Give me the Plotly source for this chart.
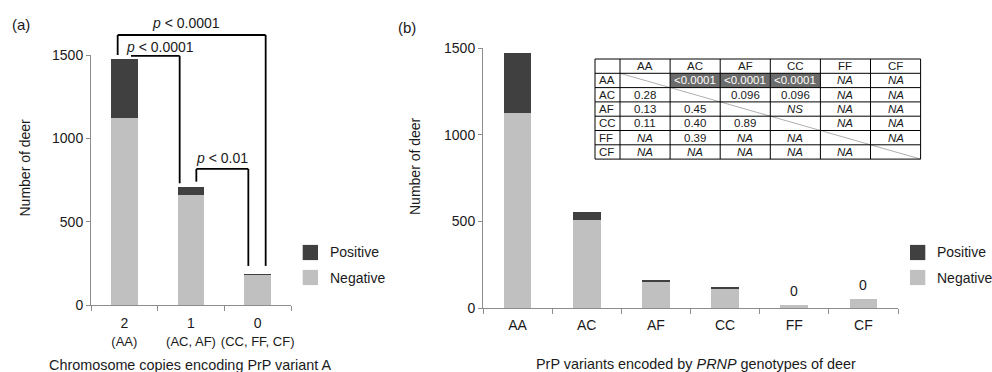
import plotly.graph_objects as go

# ---------------- data ----------------
copies = ["2", "1", "0"]
copies_sub = ["(AA)", "(AC, AF)", "(CC, FF, CF)"]
neg_a = [1125, 661, 184]
pos_a = [350, 50, 2]

genotypes = ["AA", "AC", "AF", "CC", "FF", "CF"]
neg_b = [1125, 510, 151, 113, 17, 54]
pos_b = [350, 43, 7, 2, 0, 0]

table_cols = ["AA", "AC", "AF", "CC", "FF", "CF"]
table_rows = [
    ["", "<0.0001", "<0.0001", "<0.0001", "NA", "NA"],
    ["0.28", "", "0.096", "0.096", "NA", "NA"],
    ["0.13", "0.45", "", "NS", "NA", "NA"],
    ["0.11", "0.40", "0.89", "", "NA", "NA"],
    ["NA", "0.39", "NA", "NA", "", "NA"],
    ["NA", "NA", "NA", "NA", "NA", ""],
]

# significance brackets for panel (a): polyline points (category index, count), label, label pos
brackets = [
    ([(-0.1, 1500), (-0.1, 1620), (2.12, 1620), (2.12, 236)], "&lt; 0.0001", (0.93, 1694)),
    ([(0.1, 1495), (0.83, 1495), (0.83, 731)], "&lt; 0.0001", (0.54, 1550)),
    ([(1.08, 741), (1.08, 817), (1.86, 817), (1.86, 236)], "&lt; 0.01", (1.46, 881)),
]

# ---------------- style ----------------
W, H = 992, 372
FONT = "Liberation Sans, Arial, sans-serif"
TXT = "#1a1a1a"
DARK = "#404040"
LIGHT = "#c0c0c0"
AXC = "#8c8c8c"


def px_x(p):
    return p / W


def px_y(p):
    return 1 - p / H


xa_dom = [px_x(91), px_x(291)]
ya_dom = [px_y(305.3), px_y(55)]
xb_dom = [px_x(483), px_x(898)]
yb_dom = [px_y(308), px_y(48.3)]
YMAX = 1500

fig = go.Figure()
fig.add_trace(go.Bar(x=copies, y=neg_a, name="Negative", marker=dict(color=LIGHT, line_width=0),
                     xaxis="x", yaxis="y", showlegend=False))
fig.add_trace(go.Bar(x=copies, y=pos_a, name="Positive", marker=dict(color=DARK, line_width=0),
                     xaxis="x", yaxis="y", showlegend=False))
fig.add_trace(go.Bar(x=genotypes, y=neg_b, name="Negative", marker=dict(color=LIGHT, line_width=0),
                     xaxis="x2", yaxis="y2", showlegend=False))
fig.add_trace(go.Bar(x=genotypes, y=pos_b, name="Positive", marker=dict(color=DARK, line_width=0),
                     xaxis="x2", yaxis="y2", showlegend=False))

shapes = []
annotations = []


def text(x, y, s, size=14, xanchor="center", color=TXT, **kw):
    d = dict(xref="paper", yref="paper", x=x, y=y, text=s, showarrow=False,
             xanchor=xanchor, yanchor="middle", font=dict(family=FONT, size=size, color=color))
    d.update(kw)
    annotations.append(d)


# ---------- p-value table (panel b) ----------
T_LEFT, T_TOP = 595, 59
C0_W, C_W, R_H = 25, 50.1, 14.3
n_rows = len(table_rows) + 1
col_edges = [T_LEFT, T_LEFT + C0_W] + [T_LEFT + C0_W + C_W * (j + 1) for j in range(len(table_cols))]
row_edges = [T_TOP + R_H * i for i in range(n_rows + 1)]

for i, row in enumerate(table_rows):
    for j, v in enumerate(row):
        if v.startswith("<"):
            shapes.append(dict(type="rect", xref="paper", yref="paper", layer="below",
                               x0=px_x(col_edges[j + 1]), x1=px_x(col_edges[j + 2]),
                               y0=px_y(row_edges[i + 1]), y1=px_y(row_edges[i + 2]),
                               fillcolor="#6b6b6b", line=dict(width=0)))
# diagonal
shapes.append(dict(type="line", xref="paper", yref="paper",
                   x0=px_x(col_edges[1]), y0=px_y(row_edges[1]), x1=px_x(col_edges[-1]), y1=px_y(row_edges[-1]),
                   line=dict(color="#9a9a9a", width=0.8)))
for ye in row_edges:
    shapes.append(dict(type="line", xref="paper", yref="paper", x0=px_x(col_edges[0]), x1=px_x(col_edges[-1]),
                       y0=px_y(ye), y1=px_y(ye), line=dict(color="#000000", width=1)))
for xe in col_edges:
    shapes.append(dict(type="line", xref="paper", yref="paper", x0=px_x(xe), x1=px_x(xe),
                       y0=px_y(row_edges[0]), y1=px_y(row_edges[-1]), line=dict(color="#000000", width=1)))

for j, c in enumerate(table_cols):
    text(px_x((col_edges[j + 1] + col_edges[j + 2]) / 2), px_y(row_edges[0] + R_H / 2), c, size=11.5)
for i, (rname, row) in enumerate(zip(table_cols, table_rows)):
    yc = px_y(row_edges[i + 1] + R_H / 2)
    text(px_x(col_edges[0] + 2), yc, rname, size=11.5, xanchor="left")
    for j, v in enumerate(row):
        if not v:
            continue
        s = "<i>%s</i>" % v if v in ("NA", "NS") else v.replace("<", "&lt;")
        col = "white" if v.startswith("<") else TXT
        text(px_x((col_edges[j + 1] + col_edges[j + 2]) / 2), yc, s, size=11.5, color=col)

# ---------- significance brackets (panel a) ----------
for pts, rest, (tx, ty) in brackets:
    for (xa0, ya0), (xa1, ya1) in zip(pts[:-1], pts[1:]):
        shapes.append(dict(type="line", xref="x domain", yref="y domain",
                           x0=(xa0 + 0.5) / 3, y0=ya0 / YMAX, x1=(xa1 + 0.5) / 3, y1=ya1 / YMAX,
                           line=dict(color="#000000", width=1.8)))
    annotations.append(dict(xref="x domain", yref="y domain", x=(tx + 0.5) / 3, y=ty / YMAX,
                            xanchor="center", yanchor="middle",
                            text="<i>p</i> %s" % rest, showarrow=False,
                            font=dict(family=FONT, size=14, color=TXT)))

# zero labels above bars with no positives
for g, n, p in zip(genotypes, neg_b, pos_b):
    if p == 0:
        annotations.append(dict(xref="x2", yref="y2", x=g, y=n + p, text=str(p), showarrow=False,
                                xanchor="center", yanchor="bottom", yshift=4,
                                font=dict(family=FONT, size=14, color=TXT)))

# ---------- legends ----------
for lx, tx in [(302.7, 328), (910, 935)]:
    for k, (nm, colr) in enumerate([("Positive", DARK), ("Negative", LIGHT)]):
        yc = 252.5 + 25 * k
        shapes.append(dict(type="rect", xref="paper", yref="paper", x0=px_x(lx), x1=px_x(lx + 15.3),
                           y0=px_y(yc - 7.6), y1=px_y(yc + 7.6), fillcolor=colr, line=dict(width=0)))
        text(px_x(tx), px_y(yc), nm, size=14, xanchor="left")

# ---------- panel labels and axis titles ----------
text(px_x(21), px_y(25), "(a)", size=15)
text(px_x(407), px_y(27), "(b)", size=15)
text(px_x(190.5), px_y(365), "Chromosome copies encoding PrP variant A", size=14.4)
text(px_x(696), px_y(364), "PrP variants encoded by <i>PRNP</i> genotypes of deer", size=14.4)
text(px_x(24.5), px_y(168), "Number of deer", size=14, textangle=-90)
text(px_x(415), px_y(166), "Number of deer", size=14, textangle=-90)

ticktext_a = ["%s<br><span style='font-size:13px'>%s</span>" % (c, s) for c, s in zip(copies, copies_sub)]

common_y = dict(range=[0, YMAX], tickvals=[0, 500, 1000, 1500], showgrid=False, zeroline=False,
                showline=True, linecolor=AXC, linewidth=1, ticks="outside", ticklen=4, tickcolor=AXC,
                tickfont=dict(family=FONT, size=14, color=TXT), fixedrange=True, automargin=False)
common_x = dict(showgrid=False, zeroline=False, showline=True, linecolor=AXC, linewidth=1,
                ticks="outside", ticklen=5, tickcolor=AXC, tickson="boundaries", tickangle=0,
                tickfont=dict(family=FONT, size=14, color=TXT), fixedrange=True, automargin=False)

fig.update_layout(
    width=W, height=H, margin=dict(l=0, r=0, t=0, b=0),
    paper_bgcolor="white", plot_bgcolor="white",
    barmode="stack", bargap=0.6, showlegend=False,
    font=dict(family=FONT, size=14, color=TXT),
    xaxis=dict(domain=xa_dom, anchor="y", type="category", tickvals=copies, ticktext=ticktext_a,
               ticklabelstandoff=5, **common_x),
    yaxis=dict(domain=ya_dom, anchor="x", **common_y),
    xaxis2=dict(domain=xb_dom, anchor="y2", type="category", ticklabelstandoff=4, **common_x),
    yaxis2=dict(domain=yb_dom, anchor="x2", **common_y),
    shapes=shapes, annotations=annotations,
)

fig.write_html("out.html", config={"displayModeBar": False},
               post_script="document.body.style.margin='0';document.body.style.overflow='hidden';")
